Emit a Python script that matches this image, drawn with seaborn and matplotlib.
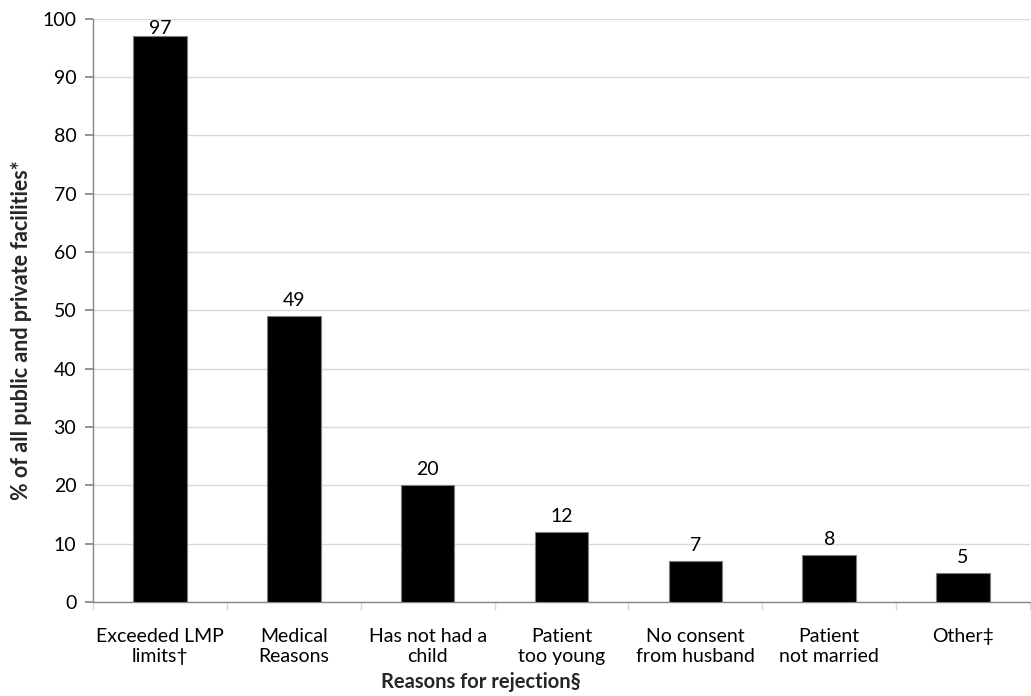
import matplotlib
matplotlib.use("Agg")
import matplotlib.pyplot as plt
import seaborn as sns
import numpy as np
import pandas as pd

categories = ["Exceeded LMP\nlimits\u2020", "Medical\nReasons", "Has not had a\nchild",
              "Patient\ntoo young", "No consent\nfrom husband", "Patient\nnot married", "Other\u2021"]
values = [97, 49, 20, 12, 7, 8, 5]
y_ticks = list(range(0, 101, 10))

sns.set_theme(style="white")
plt.rcParams["font.family"] = ["Lato", "DejaVu Sans"]

df = pd.DataFrame({"reason": categories, "pct": values})

fig = plt.figure(figsize=(10.31, 6.96), dpi=100)
ax = fig.add_axes([0.0902, 0.135, 0.9088, 0.838])

sns.barplot(data=df, x="reason", y="pct", color="black", width=0.4,
            edgecolor="#7f7f7f", linewidth=0.8, saturation=1, ax=ax, zorder=3)

ax.set_ylim(0, 100)
ax.set_xlim(-0.5, len(categories) - 0.5)
ax.set_yticks(y_ticks)
ax.yaxis.grid(True, color="#d9d9d9", linewidth=1, zorder=0)
ax.set_axisbelow(True)

for s in ["top", "right"]:
    ax.spines[s].set_visible(False)
for s in ["left", "bottom"]:
    ax.spines[s].set_color("#868686")
    ax.spines[s].set_linewidth(1)

ax.tick_params(axis="y", which="major", left=True, length=6, color="#868686",
               labelsize=14, pad=6, labelcolor="black")
ax.tick_params(axis="x", which="major", bottom=False, labelsize=14, pad=13, labelcolor="black")
ax.set_xticks(np.arange(-0.5, len(categories), 1.0), minor=True)
ax.tick_params(axis="x", which="minor", bottom=True, length=6, color="#d9d9d9", width=1)

# value labels sit just above each bar, kept inside the plot area at the top
for i, v in enumerate(values):
    ax.text(i, min(v + 1.2, 96.8), str(v), ha="center", va="bottom", fontsize=14, color="black")

ax.set_xlabel("Reasons for rejection\u00a7", fontsize=14.5, fontweight="bold")
ax.xaxis.set_label_coords(0.414, -0.12)
ax.set_ylabel("% of all public and private facilities*", fontsize=15.5, fontweight="bold")
ax.yaxis.set_label_coords(-0.065, 0.467)

fig.savefig("out.png", dpi=100)
